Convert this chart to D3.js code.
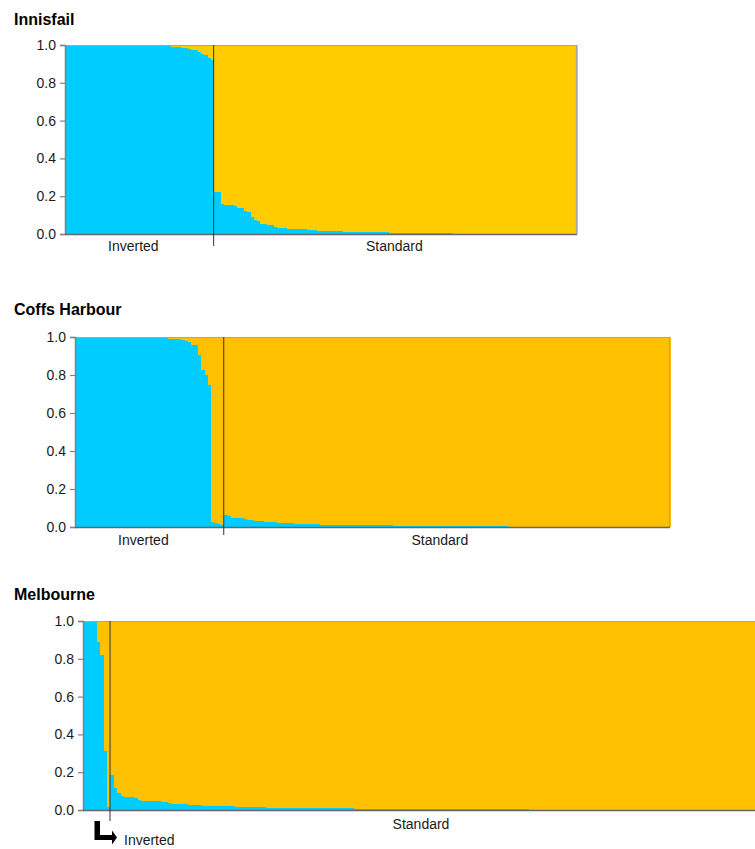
<!DOCTYPE html>
<html><head><meta charset="utf-8">
<script src="https://cdn.jsdelivr.net/npm/d3@7"></script>
<style>
html,body{margin:0;padding:0;background:#fff;}
svg{display:block;font-family:"Liberation Sans",Arial,sans-serif;}
</style></head>
<body>
<svg id="chart" width="755" height="849"></svg>
<script>
// ---- data: proportion of "Inverted" (blue) ancestry per individual ----
const innisfailInverted = [1,1,1,1,1,1,1,1,1,1,1,0.999,0.999,0.999,0.999,0.998,0.998,0.998,0.998,0.997,0.997,0.997,0.996,0.996,0.996,0.995,0.995,0.995,0.994,0.994,0.993,0.993,0.992,0.99,0.989,0.985,0.982,0.979,0.975,0.972,0.962,0.955,0.945,0.932,0.92];
const innisfailStandard = [0.224,0.22,0.16,0.155,0.153,0.152,0.15,0.138,0.135,0.12,
 0.115,0.09,0.075,0.07,0.055,0.052,0.05,0.048,0.036,0.034,
 0.033,0.032,0.029,0.028,0.027,0.026,0.025,0.024,0.023,0.02,
 0.019,0.018,0.018,0.017,0.017,0.016,0.016,0.015,0.015,0.013,
 0.013,0.012,0.012,0.011,0.011,0.01,0.01,0.009,0.009,0.009,
 0.008,0.008,0.008,0.007,0.007,0.007,0.006,0.006,0.006,0.005,
 0.005,0.005,0.005,0.004,0.004,0.004,0.004,0.003,0.003,0.003,
 0.003,0.003,0.002,0.002,0.002,0.002,0.002,0.002,0.002,0.002,
 0.001,0.001,0.001,0.001,0.001,0.001,0.001,0.001,0.001,0.001,0.001,0.001,0.001,0.001,0.001,
 0,0,0,0,0,0,0,0,0,0,0,0,0,0,0];

const coffsInverted = [1,1,1,1,1,1,1,1,1,1,
 0.999,0.999,0.999,0.999,0.998,0.998,0.998,0.998,0.997,0.997,0.997,
 0.996,0.996,0.995,0.995,0.994,0.994,0.993,0.992,0.991,0.99,
 0.988,0.985,0.98,0.975,0.96,0.958,0.905,0.826,0.8,0.747,
 0.028,0.02,0.015,0.012];
const coffsStandard = [0.063,0.058,0.05,0.048,0.046,0.045,0.043,0.038,0.036,0.034,
 0.033,0.031,0.028,0.026,0.025,0.024,0.023,0.022,0.021,0.019,
 0.019,0.018,0.018,0.017,0.017,0.016,0.016,0.015,0.015,0.013,
 0.013,0.013,0.012,0.012,0.012,0.011,0.011,0.011,0.011,0.01,
 0.01,0.01,0.01,0.01,0.009,0.009,0.009,0.008,0.008,0.008,
 0.008,0.007,0.007,0.007,0.007,0.006,0.006,0.006,0.006,0.006,
 0.005,0.005,0.005,0.005,0.005,0.005,0.005,0.005,
 0.004,0.004,0.004,0.004,0.004,0.004,0.004,0.004,
 0.003,0.003,0.003,0.003,0.003,0.003,0.003,0.003,0.003,0.003,
 0.002,0.002,0.002,0.002,0.002,0.002,0.002,0.002,0.002,0.002,0.002,0.002,
 0.001,0.001,0.001,0.001,0.001,0.001,0.001,0.001,0.001,0.001,0.001,0.001,0.001,0.001,0.001,0.001,0.001,
 0,0,0,0,0,0,0,0,0,0,0,0,0,0,0,0,0,0,0,0];

const melbourneInverted = [1,1,1,1,0.887,0.82,0.314,0.017];
const melbourneStandard = [0.185,0.115,0.09,0.072,0.07,0.068,0.067,0.066,0.052,0.05,
 0.049,0.048,0.047,0.046,0.045,0.044,0.042,0.036,0.034,0.033,
 0.032,0.031,0.03,0.028,0.027,0.024,0.024,0.023,0.023,0.022,
 0.022,0.021,0.021,0.02,0.02,0.019,0.019,0.016,0.016,0.016,
 0.015,0.015,0.015,0.014,0.014,0.014,0.013,0.013,0.013,0.013,
 0.012,0.012,0.011,0.011,0.011,0.011,0.01,0.01,0.01,0.01,
 0.01,0.009,0.009,0.009,0.009,0.009,0.008,0.008,0.008,0.008,
 0.008,0.008,0.007,0.007,0.007,0.007,0.007,0.007,0.006,0.006,
 0.006,0.006,0.006,0.006,0.006,0.006,0.006,0.005,0.005,0.005,
 0.005,0.005,0.005,0.005,0.005,0.005,0.005,0.005,0.005,0.005,
 0.004,0.004,0.004,0.004,0.004,0.004,0.004,0.004,0.004,0.004,0.004,0.004,
 0.003,0.003,0.003,0.003,0.003,0.003,0.003,0.003,0.003,0.003,0.003,0.003,
 0.002,0.002,0.002,0.002,0.002,0.002,0.002,0.002,0.002,0.002,0.002,0.002,0.002,0.002,0.002,0.002,0.002,0.002,0.002,0.002,
 0.001,0.001,0.001,0.001,0.001,0.001,0.001,0.001,0.001,0.001,0.001,0.001,0.001,0.001,0.001,0.001,0.001,0.001,0.001,0.001,
 0,0,0,0,0,0,0,0,0,0,0,0,0,0,0,0,0,0,0,0,0,0,0,0,0,0,0,0];

const populations = ["Innisfail","Coffs Harbour","Melbourne"];
const groupLabels = ["Inverted","Standard"];
const yTicks = [0,0.2,0.4,0.6,0.8,1.0];

const BLUE = "#00CCFF";

// ---- layout ----
const panels = [
  {title:populations[0], inv:innisfailInverted, std:innisfailStandard, yellow:"#FFCC00",
   left:65, right:577, top:45, bottom:234, titleY:25, labelY:251, divBottom:246,
   invLabelDx:-6, stdLabelDx:-1, arrowLabel:false, rightBorder:true},
  {title:populations[1], inv:coffsInverted, std:coffsStandard, yellow:"#FFC000",
   left:75, right:670, top:337, bottom:527, titleY:315, labelY:545, divBottom:535,
   invLabelDx:-6, stdLabelDx:-7, arrowLabel:false, rightBorder:true},
  {title:populations[2], inv:melbourneInverted, std:melbourneStandard, yellow:"#FFC000",
   left:83, right:758, top:621, bottom:810, titleY:600, labelY:829, divBottom:821,
   invLabelDx:0, stdLabelDx:-13, arrowLabel:true, rightBorder:false}
];

const svg = d3.select("#chart");

panels.forEach(p => {
  const values = p.inv.concat(p.std);
  const ids = d3.range(values.length);
  const x = d3.scaleBand().domain(ids).range([p.left, p.right]).padding(0);
  const y = d3.scaleLinear().domain([0,1]).range([p.bottom, p.top]);
  const g = svg.append("g");

  // title
  g.append("text").attr("x",14).attr("y",p.titleY)
    .attr("font-size",16).attr("font-weight","bold").attr("fill","#000")
    .text(p.title);

  // yellow (standard) component
  g.append("g").selectAll("rect").data(values).join("rect")
    .attr("x",(d,i)=>x(i)).attr("width",x.bandwidth()+0.6)
    .attr("y",y(1)).attr("height",d=>y(0)-y(1))
    .attr("fill",p.yellow).attr("shape-rendering","crispEdges");
  // blue (inverted) component
  g.append("g").selectAll("rect").data(values).join("rect")
    .attr("x",(d,i)=>x(i)).attr("width",x.bandwidth()+0.6)
    .attr("y",d=>y(d)).attr("height",d=>y(0)-y(d))
    .attr("fill",BLUE).attr("shape-rendering","crispEdges");

  // frame (top / right)
  g.append("line").attr("x1",p.left).attr("x2",p.right).attr("y1",p.top+0.5).attr("y2",p.top+0.5)
    .attr("stroke","#a6a6a6").attr("stroke-width",1.2);
  if (p.rightBorder) {
    g.append("line").attr("x1",p.right-0.5).attr("x2",p.right-0.5).attr("y1",p.top).attr("y2",p.bottom)
      .attr("stroke","#a6a6a6").attr("stroke-width",1.2);
  }

  // y axis
  const ax = g.append("g").attr("transform",`translate(${p.left},0)`)
    .call(d3.axisLeft(y).tickValues(yTicks).tickFormat(d3.format(".1f")).tickSize(5).tickPadding(4));
  ax.select(".domain").attr("stroke","#808080").attr("stroke-width",1.5);
  ax.selectAll(".tick line").attr("stroke","#808080").attr("stroke-width",1.2);
  ax.selectAll(".tick text").attr("font-size",14).attr("fill","#1a1a1a")
    .attr("font-family","'Liberation Sans',Arial,sans-serif");

  // bottom axis line
  g.append("line").attr("x1",p.left).attr("x2",p.right).attr("y1",p.bottom+0.5).attr("y2",p.bottom+0.5)
    .attr("stroke","#666").attr("stroke-width",1.5);

  // divider between groups
  const divX = x(p.inv.length);
  g.append("line").attr("x1",divX).attr("x2",divX).attr("y1",p.top).attr("y2",p.divBottom)
    .attr("stroke","#333").attr("stroke-width",1);

  // group labels
  const invC = (p.left + divX)/2 + p.invLabelDx;
  const stdC = (divX + p.right)/2 + p.stdLabelDx;
  g.append("text").attr("x",stdC).attr("y",p.labelY).attr("text-anchor","middle")
    .attr("font-size",14).attr("fill","#1a1a1a").text(groupLabels[1]);
  if (!p.arrowLabel) {
    g.append("text").attr("x",invC).attr("y",p.labelY).attr("text-anchor","middle")
      .attr("font-size",14).attr("fill","#1a1a1a").text(groupLabels[0]);
  } else {
    const ax0 = divX - 15.5;
    const ay0 = p.bottom + 11;
    g.append("path")
      .attr("d",`M${ax0},${ay0} V${ay0+19} H${ax0+17.5} V${ay0+23.5} L${ax0+22.5},${ay0+16.5} L${ax0+17.5},${ay0+9.5} V${ay0+14} H${ax0+5.5} V${ay0} Z`)
      .attr("fill","#000");
    g.append("text").attr("x",divX+14).attr("y",p.bottom+35).attr("text-anchor","start")
      .attr("font-size",14).attr("fill","#1a1a1a").text(groupLabels[0]);
  }
});
</script>
</body></html>
